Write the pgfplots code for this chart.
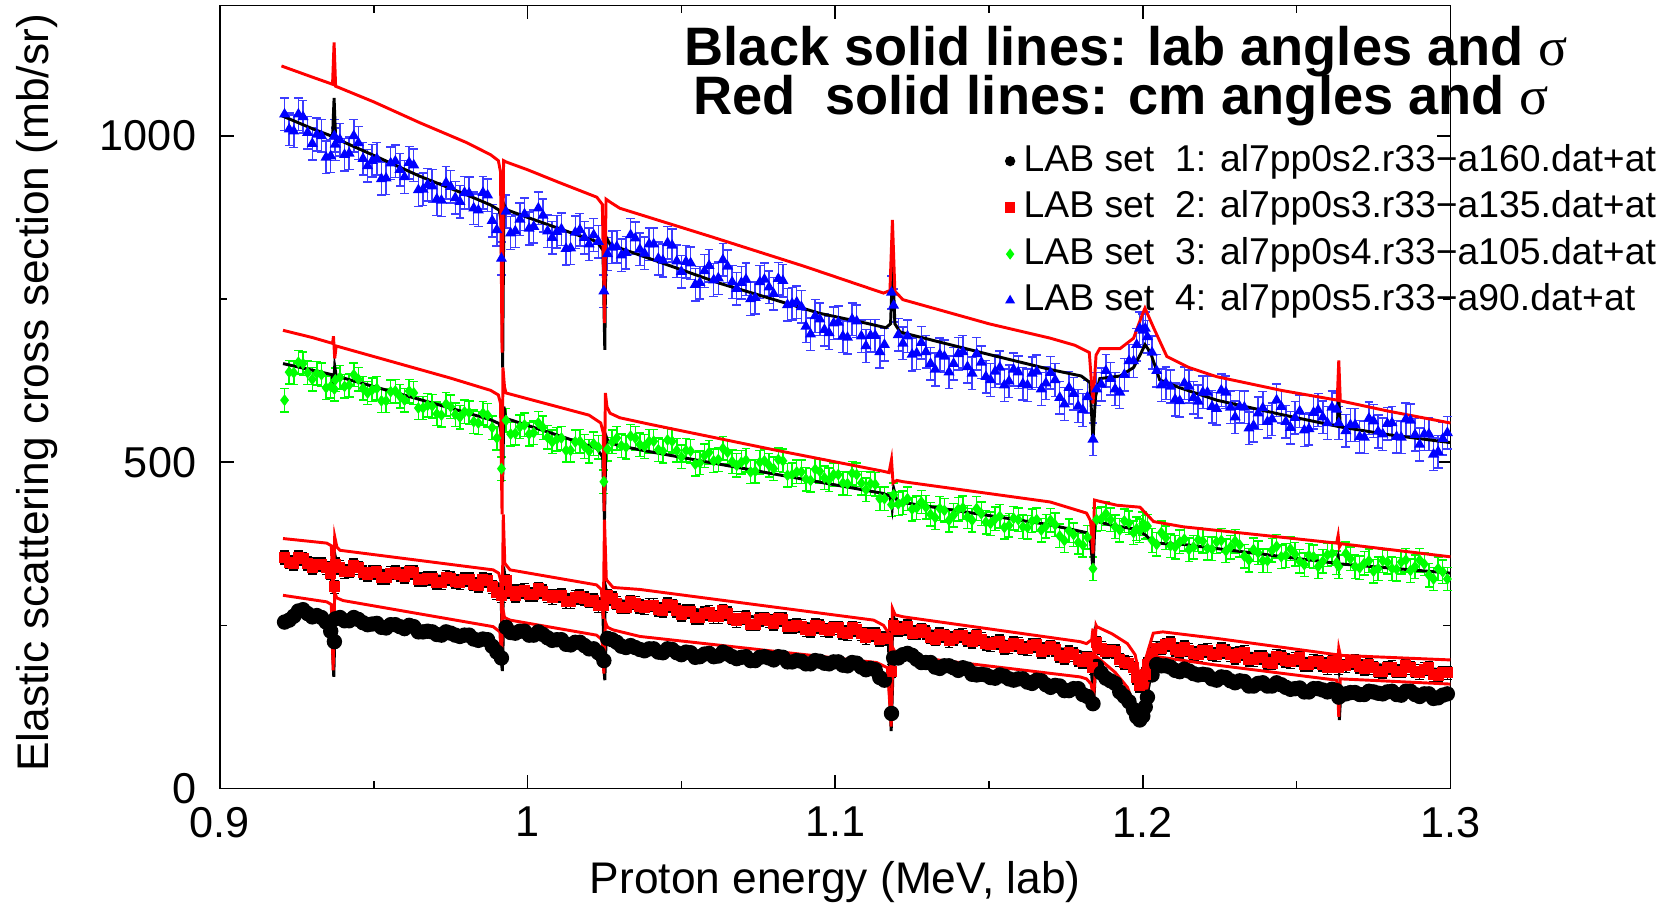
\documentclass[border=0pt]{standalone}
\usepackage{fontspec}
\setmainfont{Liberation Sans}
\newfontfamily\serifsym{Liberation Serif}
\usepackage{pgfplots}
\pgfplotsset{compat=1.18}
\usepackage{pgfplotstable}
\definecolor{ptblue}{RGB}{0,0,255}
\definecolor{barblue}{RGB}{60,60,255}
\definecolor{ptgreen}{RGB}{0,255,0}
\definecolor{ptred}{RGB}{255,0,0}

% x, b = set 4 (a90), g = set 3 (a105), r = set 2 (a135), k = set 1 (a160)
\pgfplotstableread{
x b g r k
0.921 1033 595 354 255
0.924 1007 637 345 264
0.927 1029 651 352 274
0.930 988 627 339 263
0.933 1000 634 343 262
0.936 969 616 330 241
0.9372 1000 612 309 225
0.939 994 630 339 262
0.942 973 618 333 257
0.945 989 627 338 259
0.948 954 606 328 251
0.951 965 613 332 253
0.954 935 594 323 246
0.957 961 609 331 251
0.960 937 595 325 245
0.963 955 606 331 248
0.966 918 583 320 240
0.969 923 586 322 240
0.972 901 572 315 235
0.975 922 585 322 238
0.978 899 569 315 233
0.981 912 576 320 235
0.984 886 560 311 227
0.987 909 572 319 228
0.990 856 537 300 209
0.9915 812 490 295 200
0.993 884 564 318 247
0.996 854 544 296 238
0.999 880 557 304 241
1.002 861 545 297 235
1.005 878 553 302 236
1.008 844 531 292 227
1.011 857 537 296 228
1.014 828 518 286 220
1.017 856 532 294 224
1.020 834 517 287 214
1.023 838 523 280 208
1.0248 762 470 280 196
1.026 819 520 295 230
1.029 830 537 284 224
1.032 821 523 278 216
1.035 843 537 284 216
1.038 820 524 277 211
1.041 834 532 281 214
1.044 809 517 273 208
1.047 832 532 280 213
1.050 792 508 267 205
1.053 805 517 271 208
1.056 775 499 262 202
1.059 801 515 270 207
1.062 782 504 263 203
1.065 800 515 268 206
1.068 766 495 257 199
1.071 780 503 262 202
1.074 752 486 252 196
1.077 780 502 260 202
1.080 758 490 253 197
1.083 778 502 259 201
1.086 743 481 248 194
1.089 738 485 249 195
1.092 696 472 242 191
1.095 719 486 248 195
1.098 698 473 242 191
1.101 714 481 246 194
1.104 691 467 237 188
1.107 716 481 244 192
1.110 678 458 231 182
1.113 694 466 236 182
1.116 680 444 230 166
1.1183 760 435 180 115
1.119 740 450 250 200
1.122 682 438 245 205
1.125 665 428 238 204
1.128 683 439 243 193
1.131 651 420 232 193
1.134 665 429 236 184
1.137 638 411 226 188
1.140 666 428 234 181
1.143 646 416 228 183
1.146 666 429 234 174
1.149 631 408 222 174
1.152 639 413 223 169
1.155 618 400 216 172
1.158 642 414 222 166
1.161 620 401 215 168
1.164 636 410 219 161
1.167 612 396 210 165
1.170 637 411 217 155
1.173 599 387 204 157
1.176 614 395 208 150
1.179 586 377 198 153
1.182 600 385 200 141
1.1838 535 337 185 130
1.185 612 412 223 187
1.188 640 421 210 169
1.191 612 401 210 161
1.194 634 410 193 141
1.197 655 392 185 121
1.1990 705 395 158 105
1.200 702 406 161 111
1.2015 692 402 190 140
1.203 668 380 207 174
1.206 618 392 215 188
1.209 616 372 222 186
1.212 594 378 210 179
1.215 616 366 212 180
1.218 593 381 205 174
1.221 607 368 212 174
1.224 582 378 205 166
1.227 607 364 210 170
1.230 569 379 201 162
1.233 584 356 209 164
1.236 556 366 197 157
1.239 583 349 201 162
1.242 566 365 192 157
1.245 585 355 201 159
1.248 553 367 194 152
1.251 578 348 200 154
1.254 551 357 190 148
1.257 580 340 194 153
1.260 560 358 185 148
1.263 581 346 194 150
1.2637 560 340 185 140
1.266 548 360 188 145
1.269 557 340 195 147
1.272 538 345 184 144
1.275 563 333 185 148
1.278 543 349 179 145
1.281 560 337 186 149
1.284 538 347 180 143
1.287 564 334 185 149
1.290 527 350 177 141
1.293 543 327 185 145
1.296 516 337 173 139
1.299 545 321 177 145
}\sets

% the points that lie between those above
\pgfplotstableread{
x b g r k
0.9225 1010 638 347 258
0.9255 1033 653 354 272
0.9285 1005 637 345 268
0.9315 1002 636 343 265
0.9345 967 614 338 255
0.9375 987 626 343 260
0.9405 971 616 332 257
0.9435 1000 634 342 262
0.9465 965 613 331 254
0.9495 962 611 331 252
0.9525 934 594 323 247
0.9555 958 608 330 251
0.9585 948 601 328 248
0.9615 959 609 332 250
0.9645 917 583 320 240
0.9675 925 587 322 241
0.9705 903 574 316 236
0.9735 928 589 324 240
0.9765 905 573 317 235
0.9795 913 577 320 235
0.9825 889 562 313 229
0.9855 913 575 320 229
0.9885 870 553 309 218
0.9945 851 543 302 239
0.9975 872 554 302 241
1.0005 858 543 297 235
1.0035 889 560 306 240
1.0065 854 538 295 231
1.0095 853 535 295 228
1.0125 827 518 286 221
1.0155 852 531 293 224
1.0185 844 524 291 219
1.0215 848 528 288 214
1.0275 829 531 291 228
1.0305 817 525 278 218
1.0335 848 540 286 219
1.0365 826 527 279 213
1.0395 834 532 281 214
1.0425 812 519 274 209
1.0455 836 534 282 214
1.0485 808 518 273 208
1.0515 807 518 271 209
1.0545 772 497 262 201
1.0575 793 510 268 206
1.0605 779 502 263 202
1.0635 810 521 272 209
1.0665 776 501 261 202
1.0695 775 500 261 201
1.0725 750 485 252 196
1.0755 776 500 259 201
1.0785 768 495 257 200
1.0815 781 504 260 202
1.0845 741 480 248 194
1.0875 745 485 250 196
1.0905 708 474 243 191
1.0935 724 489 250 196
1.0965 703 476 243 192
1.0995 713 481 246 194
1.1025 693 468 239 189
1.1055 719 483 246 193
1.1085 693 468 237 186
1.1115 694 467 236 184
1.1145 669 444 228 170
1.1205 695 436 244 200
1.1235 693 444 248 207
1.1265 667 430 239 198
1.1295 669 431 239 193
1.1325 642 415 229 186
1.1355 662 426 234 188
1.1385 651 419 230 185
1.1415 669 430 235 185
1.1445 636 411 225 175
1.1475 653 421 229 175
1.1505 626 406 220 170
1.1535 645 417 225 174
1.1565 624 403 217 168
1.1595 638 412 221 168
1.1625 618 400 214 163
1.1655 639 412 220 166
1.1685 621 402 213 159
1.1715 626 404 213 158
1.1745 589 380 201 150
1.1775 605 389 205 153
1.1805 580 373 195 144
1.1865 619 413 215 177
1.1895 628 412 211 165
1.1925 607 396 197 148
1.1955 655 407 192 133
1.1980 680 398 170 110
1.2008 705 400 175 125
1.2045 640 374 215 190
1.2075 621 384 220 188
1.2105 596 370 213 181
1.2135 621 382 216 183
1.2165 599 370 207 176
1.2195 607 379 211 175
1.2225 585 367 206 168
1.2255 610 380 213 171
1.2285 584 370 205 165
1.2315 585 373 207 165
1.2345 552 350 198 157
1.2375 575 361 201 161
1.2405 562 349 193 157
1.2435 595 371 203 162
1.2465 562 357 196 155
1.2495 568 359 198 153
1.2525 549 343 190 148
1.2555 576 355 195 153
1.2585 569 348 190 151
1.2615 584 360 194 152
1.2675 557 352 193 147
1.2705 539 338 187 144
1.2735 567 349 190 149
1.2765 547 337 180 146
1.2795 559 347 185 148
1.2825 539 336 180 144
1.2855 566 350 188 149
1.2885 542 340 180 144
1.2915 543 344 183 145
1.2945 512 321 174 138
1.2975 536 332 177 143
}\setsmid

\pgfplotsset{
  set1/.style={only marks, mark=*, mark size=1.9pt, color=black,
    error bars/.cd, y dir=both, y fixed=6,
    error bar style={black, line width=0.4pt},
    error mark options={rotate=90, mark size=1.2pt, black}},
  set2/.style={only marks, mark=square*, mark size=1.3pt, color=ptred,
    error bars/.cd, y dir=both, y fixed=10,
    error bar style={black, line width=0.4pt},
    error mark options={rotate=90, mark size=1.2pt, black}},
  set3/.style={only marks, mark=diamond*, mark size=1.3pt, color=ptgreen,
    error bars/.cd, y dir=both, y fixed=18,
    error bar style={ptgreen, line width=0.4pt},
    error mark options={rotate=90, mark size=1.2pt, ptgreen}},
  set4/.style={only marks, mark=triangle*, mark size=1.35pt, color=ptblue,
    error bars/.cd, y dir=both, y fixed=25,
    error bar style={barblue, line width=0.4pt},
    error mark options={rotate=90, mark size=1.2pt, barblue}},
}

\begin{document}
\begin{tikzpicture}
\useasboundingbox (-60.1pt,-32.5pt) rectangle (395.1pt,215.45pt);
\begin{axis}[
  scale only axis,
  width=336.2pt, height=214pt,
  xmin=0.9, xmax=1.3, ymin=0, ymax=1200,
  xtick={0.9,1.0,1.1,1.2,1.3},
  xticklabels={0.9,1,1.1,1.2,1.3},
  minor xtick={0.95,1.05,1.15,1.25},
  ytick={0,500,1000},
  yticklabels={0,500,1000},
  minor ytick={250,750},
  tick align=inside,
  major tick length=3.8pt,
  minor tick length=2pt,
  tick style={black, line width=0.4pt},
  axis line style={line width=0.4pt},
  tick label style={font=\fontsize{11.8}{13}\selectfont},
  yticklabel style={xshift=-3pt},
  xticklabel style={yshift=-1.5pt},
  every axis x label/.style={at={(axis description cs:0.5,-0.1194)}, anchor=center,
    font=\fontsize{12.1}{14}\selectfont},
  every axis y label/.style={at={(axis description cs:-0.1485,0.505)}, rotate=90, anchor=center,
    font=\fontsize{12.1}{14}\selectfont},
  xlabel={Proton energy (MeV, lab)},
  ylabel={Elastic scattering cross section (mb/sr)},
  clip=false,
  legend cell align=left,
  legend image code/.code={\draw[mark repeat=2,mark phase=2,#1] plot coordinates {(0pt,0pt) (3pt,0pt) (6pt,0pt)};},
  legend image post style={mark size=1.2pt},
  legend style={draw=none, fill=none, inner sep=0pt,
    at={(axis description cs:0.638,0.8265)}, anchor=north west,
    font=\fontsize{10.2}{12}\selectfont,
    row sep=2.2pt, column sep=2pt,
    nodes={inner sep=0.5pt, text height=7.5pt, text depth=2pt}},
]
% data sets
\addplot[set1] table[x=x,y=k]{\sets};
\addplot[set2] table[x=x,y=r]{\sets};
\addplot[set3] table[x=x,y=g]{\sets};
\addplot[set4] table[x=x,y=b]{\sets};
\legend{LAB set~~1: al7pp0s2.r33−a160.dat+at,
        LAB set~~2: al7pp0s3.r33−a135.dat+at,
        LAB set~~3: al7pp0s4.r33−a105.dat+at,
        LAB set~~4: al7pp0s5.r33−a90.dat+at}
\addplot[forget plot, set1] table[x=x,y=k]{\setsmid};
\addplot[forget plot, set2] table[x=x,y=r]{\setsmid};
\addplot[forget plot, set3] table[x=x,y=g]{\setsmid};
\addplot[forget plot, set4] table[x=x,y=b]{\setsmid};

% fits with lab angles (black)
\addplot[black, line width=0.8pt, forget plot] coordinates {
(0.9205,256) (0.924,266) (0.927,270) (0.9347,258) (0.9362,250) (0.9370,171) (0.9375,262) (0.939,260)
(0.985,228) (0.9888,220) (0.9912,205) (0.9918,180) (0.9922,250) (0.9943,245) (1.005,233) (1.020,215)
(1.0235,202) (1.0246,196) (1.0251,166) (1.0256,236) (1.0278,233) (1.030,222) (1.0365,213) (1.106,192)
(1.115,180) (1.1175,160) (1.1182,88) (1.1188,180) (1.1200,210) (1.122,207) (1.1796,153) (1.1817,148)
(1.1832,135) (1.1840,128) (1.1846,180) (1.185,184) (1.191,160) (1.195,140) (1.1985,105) (1.2005,120)
(1.2025,170) (1.2045,192) (1.224,168) (1.263,146) (1.2635,140) (1.2639,105) (1.2644,150) (1.300,145)};
\addplot[black, line width=0.8pt, forget plot] coordinates {
(0.9205,355) (0.9347,345) (0.9362,340) (0.9368,310) (0.9373,360) (0.9380,343) (0.939,341) (0.9888,317)
(0.9908,313) (0.9914,300) (0.9918,200) (0.9922,340) (0.993,315) (0.9943,309) (1.0235,291) (1.0244,285)
(1.0249,190) (1.0253,310) (1.026,296) (1.027,289) (1.0365,285) (1.1157,238) (1.1172,232) (1.1180,140)
(1.1188,265) (1.1200,250) (1.121,248) (1.1796,210) (1.1817,205) (1.1830,195) (1.1838,150) (1.1845,235)
(1.185,225) (1.190,212) (1.195,197) (1.1975,182) (1.199,164) (1.2005,175) (1.2025,210) (1.2045,222)
(1.224,212) (1.263,195) (1.2635,205) (1.2639,180) (1.2645,194) (1.300,181)};
\addplot[black, line width=0.8pt, forget plot] coordinates {
(0.9205,651) (0.930,641) (0.9365,634) (0.9369,612) (0.9373,647) (0.9378,632) (0.9748,583) (0.988,565)
(0.9908,559) (0.9914,545) (0.9919,470) (0.9923,585) (0.993,567) (1.010,541) (1.0225,521) (1.0244,508)
(1.0250,410) (1.0255,540) (1.0262,531) (1.030,525) (1.0398,516) (1.080,482) (1.1157,452) (1.1178,448)
(1.1185,429) (1.1190,460) (1.1200,442) (1.1222,438) (1.1699,404) (1.1817,392) (1.1830,380) (1.1838,335)
(1.1845,413) (1.1860,408) (1.1893,404) (1.198,397) (1.2010,388) (1.2035,376) (1.2131,374) (1.263,345)
(1.2635,355) (1.2639,338) (1.2645,344) (1.300,330)};
\addplot[black, line width=0.8pt, forget plot] coordinates {
(0.920,1031) (0.930,1011) (0.9366,999) (0.9371,1058) (0.9376,996) (0.950,970) (0.965,938) (0.980,910)
(0.988,894) (0.9908,886) (0.9914,870) (0.9919,645) (0.9923,895) (0.993,887) (1.000,875) (1.015,850)
(1.0225,838) (1.0245,825) (1.0251,672) (1.0255,845) (1.027,832) (1.030,828) (1.0625,774) (1.095,728)
(1.110,713) (1.1165,706) (1.1180,712) (1.1187,805) (1.1194,712) (1.1210,700) (1.1222,698) (1.150,665)
(1.1699,642) (1.1800,632) (1.1828,622) (1.1838,534) (1.1846,600) (1.1860,628) (1.1926,632) (1.197,645)
(1.1995,668) (1.2007,680) (1.2025,668) (1.2055,626) (1.212,614) (1.224,595) (1.245,573) (1.2632,555)
(1.2637,600) (1.2642,554) (1.280,542) (1.300,530)};

% fits with cm angles (red)
\addplot[ptred, line width=0.8pt, forget plot] coordinates {
(0.9205,296) (0.9347,286) (0.9362,282) (0.9368,181) (0.9373,300) (0.9380,292) (0.940,288) (0.9888,248)
(0.9910,240) (0.9915,193) (0.9920,275) (0.9925,262) (0.9943,258) (1.0224,235) (1.0242,228) (1.0248,176)
(1.0253,255) (1.0260,247) (1.0278,243) (1.0365,233) (1.1135,193) (1.1170,185) (1.1182,95) (1.1188,215)
(1.1195,208) (1.121,204) (1.1796,171) (1.1817,168) (1.1832,160) (1.1840,138) (1.1848,200) (1.185,202)
(1.191,178) (1.195,155) (1.198,118) (1.2005,135) (1.2025,180) (1.2045,202) (1.224,189) (1.263,166)
(1.2633,150) (1.2637,110) (1.2642,168) (1.300,160)};
\addplot[ptred, line width=0.8pt, forget plot] coordinates {
(0.9205,383) (0.9347,376) (0.9362,372) (0.9368,300) (0.9373,386) (0.9380,370) (0.939,365) (0.9888,335)
(0.9906,330) (0.9913,318) (0.9917,250) (0.9921,420) (0.9926,345) (0.9943,335) (1.0224,312) (1.0240,305)
(1.0246,260) (1.0250,412) (1.0256,320) (1.0278,308) (1.0365,305) (1.1125,258) (1.1157,250) (1.1178,235)
(1.1182,170) (1.1186,276) (1.1195,266) (1.1222,263) (1.1796,225) (1.1817,222) (1.1834,228) (1.1838,245)
(1.1842,190) (1.1848,250) (1.185,248) (1.190,237) (1.195,222) (1.1975,205) (1.1991,168) (1.2010,200)
(1.2034,238) (1.2065,240) (1.224,230) (1.263,205) (1.2633,190) (1.2637,215) (1.2642,204) (1.300,197)};
\addplot[ptred, line width=0.8pt, forget plot] coordinates {
(0.9205,702) (0.930,691) (0.9366,682) (0.9369,693) (0.9373,659) (0.9378,678) (0.9748,629) (0.988,610)
(0.9905,603) (0.9912,590) (0.9917,420) (0.9920,645) (0.9925,615) (0.993,606) (1.020,572) (1.0238,560)
(1.0246,545) (1.0249,425) (1.0253,606) (1.0258,585) (1.0268,575) (1.030,568) (1.0398,558) (1.080,519)
(1.1157,486) (1.1175,484) (1.1183,504) (1.1188,468) (1.1200,472) (1.1222,470) (1.1699,439) (1.1817,422)
(1.1830,410) (1.1838,360) (1.1843,442) (1.1860,440) (1.1916,434) (1.1991,431) (1.2035,409) (1.2131,401)
(1.263,376) (1.2635,388) (1.2639,370) (1.2645,375) (1.300,355)};
\addplot[ptred, line width=0.8pt, forget plot] coordinates {
(0.920,1107) (0.930,1090) (0.9366,1079) (0.9371,1143) (0.9376,1076) (0.950,1052) (0.965,1020) (0.980,990)
(0.988,971) (0.9905,962) (0.9912,945) (0.9917,668) (0.9922,962) (0.993,960) (1.000,948) (1.010,929)
(1.0225,906) (1.0243,895) (1.0250,713) (1.0255,903) (1.027,898) (1.030,889) (1.060,845) (1.090,800)
(1.1157,759) (1.1178,763) (1.1186,871) (1.1194,762) (1.122,749) (1.150,712) (1.1699,690) (1.178,679)
(1.1826,668) (1.1838,590) (1.1848,664) (1.186,674) (1.1926,674) (1.197,690) (1.1995,722) (1.2007,736)
(1.2035,706) (1.2078,662) (1.215,645) (1.224,631) (1.245,610) (1.2632,595) (1.2637,656) (1.2642,594)
(1.280,578) (1.300,560)};

\node[anchor=base, font=\fontsize{14.8}{17}\selectfont\bfseries] at (axis description cs:0.7366,0.9227)
  {Black solid lines: lab angles and {\serifsym\mdseries σ}};
\node[anchor=base, font=\fontsize{14.8}{17}\selectfont\bfseries] at (axis description cs:0.7323,0.8603)
  {Red~~solid lines: cm angles and {\serifsym\mdseries σ}};
\end{axis}
\end{tikzpicture}
\end{document}
